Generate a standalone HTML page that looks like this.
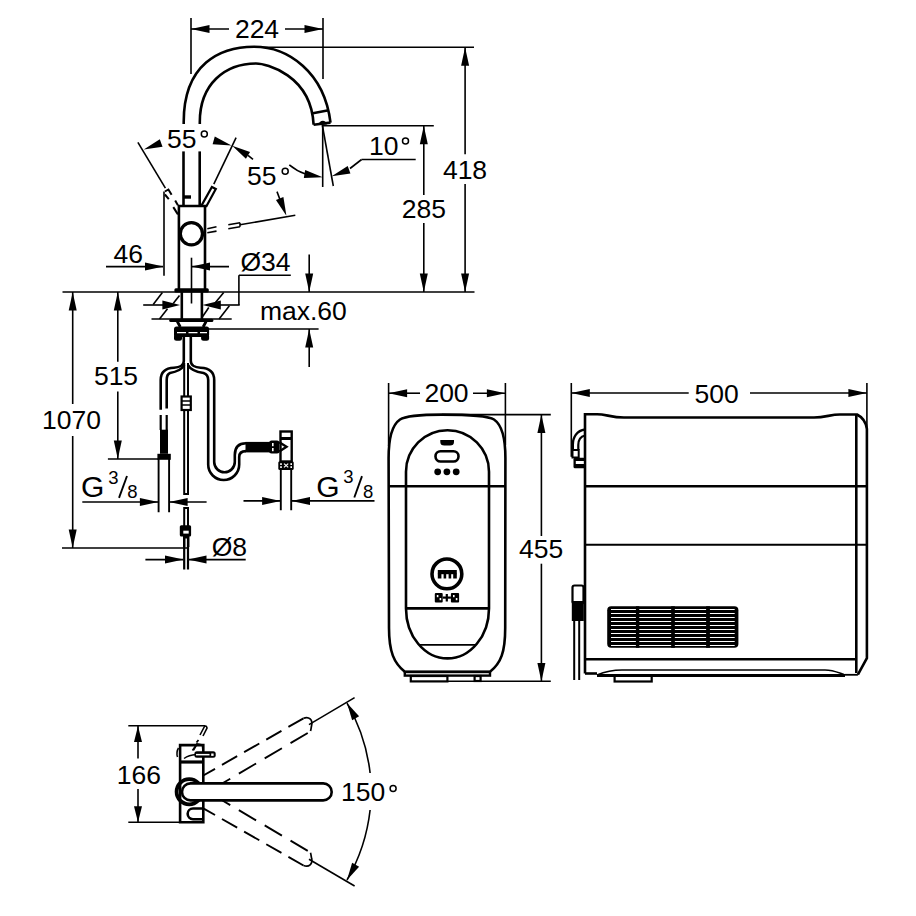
<!DOCTYPE html>
<html><head><meta charset="utf-8"><style>
html,body{margin:0;padding:0;background:#fff;}
svg{display:block;}
text{font-family:"Liberation Sans",sans-serif;fill:#000;stroke:none;}
</style></head><body>
<svg width="916" height="916" viewBox="0 0 916 916" stroke="#000" fill="none" stroke-linecap="butt">
<rect x="0" y="0" width="916" height="916" fill="#fff" stroke="none"/>
<line x1="191" y1="18" x2="191" y2="74" stroke-width="1.6"/>
<line x1="323" y1="18" x2="323" y2="79" stroke-width="1.6"/>
<line x1="191" y1="29" x2="229" y2="29" stroke-width="1.6"/>
<line x1="285" y1="29" x2="323" y2="29" stroke-width="1.6"/>
<polygon points="191.00,29.00 209.50,25.00 209.50,33.00" stroke="none" fill="#000"/>
<polygon points="323.00,29.00 304.50,33.00 304.50,25.00" stroke="none" fill="#000"/>
<text x="257" y="37.7" text-anchor="middle" font-size="26.5">224</text>
<path d="M183.7,124 L183.7,122 C183.7,64 220,46.7 254,46.7 C288,46.7 324.42,71.96 330.5,122.6" stroke-width="2.6" fill="none" />
<path d="M199.8,124 L199.8,122 C199.8,84 225,63.5 256,63.5 C266,63.5 311.1,74.76 313.6,124.7" stroke-width="2.6" fill="none" />
<path d="M312.9,113.2 L328.6,110.2" stroke-width="2.6" fill="none" />
<path d="M313.6,124.7 L330.5,122.6" stroke-width="2.6" fill="none" />
<path d="M318,125 Q319.5,121 322.8,120.8 Q326,121 327,124.5 Z" stroke="none" fill="#000"/>
<line x1="183.5" y1="151.4" x2="183.5" y2="206" stroke-width="2.6"/>
<line x1="199.7" y1="151.4" x2="199.7" y2="206" stroke-width="2.6"/>
<rect x="184" y="195.3" width="7" height="3.4" rx="0" stroke="none" fill="#000"/>
<path d="M178.9,292 L178.9,206 L205,206 L205,292" stroke-width="2.6" fill="none" />
<circle cx="191.4" cy="233.7" r="11.1" stroke-width="3.3" fill="none"/>
<path d="M201.6,205.4 L211.9,187 L215.8,189 L206,207" stroke-width="2.2" fill="none" />
<path d="M164.9,191.5 L168.4,189.5 L171.6,194.8" stroke-width="2.0" fill="none" />
<line x1="164.9" y1="194.5" x2="168.8" y2="199.1" stroke-width="2.0"/>
<line x1="175.2" y1="200.6" x2="177.9" y2="205.2" stroke-width="2.0"/>
<line x1="173.3" y1="207.1" x2="177.9" y2="214.4" stroke-width="2.0"/>
<line x1="137.9" y1="142.3" x2="165.4" y2="188.1" stroke-width="1.6"/>
<line x1="236.1" y1="137.7" x2="213.8" y2="184.2" stroke-width="1.6"/>
<polygon points="143.80,149.50 159.77,139.34 162.54,146.84" stroke="none" fill="#000"/>
<polygon points="231.50,145.50 212.61,144.29 214.80,136.60" stroke="none" fill="#000"/>
<text x="181.8" y="147.5" text-anchor="middle" font-size="26.5">55</text>
<circle cx="204.3" cy="134" r="3" stroke-width="1.5" fill="none"/>
<polygon points="232.20,145.70 250.07,151.93 245.90,158.76" stroke="none" fill="#000"/>
<line x1="248" y1="155.4" x2="253" y2="159.4" stroke-width="1.6"/>
<text x="261.7" y="184.6" text-anchor="middle" font-size="26.5">55</text>
<circle cx="285.2" cy="171.2" r="3" stroke-width="1.5" fill="none"/>
<line x1="277" y1="191.6" x2="282" y2="205" stroke-width="1.6"/>
<polygon points="286.40,215.70 275.95,199.92 283.40,197.01" stroke="none" fill="#000"/>
<line x1="207.3" y1="228.7" x2="216.5" y2="226.8" stroke-width="1.6"/>
<line x1="207.3" y1="232.7" x2="216.5" y2="231.1" stroke-width="1.6"/>
<line x1="228.3" y1="224.8" x2="240" y2="222.8" stroke-width="1.6"/>
<line x1="228.3" y1="228.7" x2="240" y2="226.8" stroke-width="1.6"/>
<line x1="240" y1="222.8" x2="240" y2="226.8" stroke-width="1.6"/>
<line x1="240" y1="224.8" x2="295.3" y2="215.2" stroke-width="1.6"/>
<line x1="322.7" y1="125" x2="322.7" y2="187" stroke-width="1.6"/>
<line x1="322.3" y1="125" x2="333.3" y2="186" stroke-width="1.6"/>
<line x1="361.6" y1="159.5" x2="415.7" y2="159.5" stroke-width="1.6"/>
<line x1="361.6" y1="159.5" x2="350" y2="168.5" stroke-width="1.6"/>
<polygon points="331.70,176.20 347.71,166.10 350.45,173.62" stroke="none" fill="#000"/>
<path d="M289.3,164.8 A52,52 0 0 0 305.5,174" stroke-width="1.6" fill="none" />
<polygon points="322.70,177.20 303.79,177.91 305.18,170.03" stroke="none" fill="#000"/>
<text x="383.7" y="155.2" text-anchor="middle" font-size="26.5">10</text>
<circle cx="405.5" cy="141.1" r="3" stroke-width="1.5" fill="none"/>
<line x1="254" y1="47.2" x2="474" y2="47.2" stroke-width="1.6"/>
<line x1="322" y1="125.7" x2="433.8" y2="125.7" stroke-width="1.6"/>
<line x1="423.8" y1="125.7" x2="423.8" y2="195" stroke-width="1.6"/>
<line x1="423.8" y1="223" x2="423.8" y2="292" stroke-width="1.6"/>
<polygon points="423.80,125.70 427.80,144.20 419.80,144.20" stroke="none" fill="#000"/>
<polygon points="423.80,292.00 419.80,273.50 427.80,273.50" stroke="none" fill="#000"/>
<text x="423.8" y="218" text-anchor="middle" font-size="26.5">285</text>
<line x1="465.1" y1="47.2" x2="465.1" y2="154.3" stroke-width="1.6"/>
<line x1="465.1" y1="184" x2="465.1" y2="292" stroke-width="1.6"/>
<polygon points="465.10,47.20 469.10,65.70 461.10,65.70" stroke="none" fill="#000"/>
<polygon points="465.10,292.00 461.10,273.50 469.10,273.50" stroke="none" fill="#000"/>
<text x="465" y="179" text-anchor="middle" font-size="26.5">418</text>
<line x1="62.5" y1="292" x2="474.5" y2="292" stroke-width="1.6"/>
<text x="128.3" y="262.5" text-anchor="middle" font-size="26.5">46</text>
<line x1="106" y1="266.6" x2="163" y2="266.6" stroke-width="1.6"/>
<polygon points="163.50,266.60 145.00,270.60 145.00,262.60" stroke="none" fill="#000"/>
<line x1="164" y1="191.6" x2="164" y2="275.7" stroke-width="1.6"/>
<line x1="191.3" y1="266.6" x2="229" y2="266.6" stroke-width="1.6"/>
<polygon points="191.50,266.60 210.00,262.60 210.00,270.60" stroke="none" fill="#000"/>
<line x1="191.5" y1="257.7" x2="191.5" y2="303.5" stroke-width="1.6"/>
<text x="265.5" y="271.3" text-anchor="middle" font-size="26.5">Ø34</text>
<line x1="238.9" y1="275.2" x2="290.8" y2="275.2" stroke-width="1.6"/>
<line x1="238.9" y1="275.2" x2="238.9" y2="305" stroke-width="1.6"/>
<line x1="143.2" y1="305" x2="165" y2="305" stroke-width="1.6"/>
<line x1="218" y1="305" x2="239.7" y2="305" stroke-width="1.6"/>
<line x1="151.5" y1="319" x2="231.7" y2="319" stroke-width="1.6"/>
<line x1="153.2" y1="304.6" x2="162.4" y2="292.6" stroke-width="1.6"/>
<line x1="159.5" y1="319" x2="167.5" y2="308.7" stroke-width="1.6"/>
<line x1="173.2" y1="303.5" x2="179.5" y2="295.5" stroke-width="1.6"/>
<line x1="215.1" y1="303" x2="223.7" y2="292.6" stroke-width="1.6"/>
<line x1="219.1" y1="319" x2="229.4" y2="305.8" stroke-width="1.6"/>
<line x1="202.5" y1="316.7" x2="208.8" y2="307.5" stroke-width="1.6"/>
<polygon points="180.10,305.00 162.40,309.50 162.40,300.50" stroke="none" fill="#000"/>
<polygon points="202.50,305.00 220.80,300.50 220.80,309.50" stroke="none" fill="#000"/>
<path d="M181.8,292 L181.8,319 M201.9,292 L201.9,319" stroke-width="2.6" fill="none" />
<rect x="174.4" y="288.3" width="34.4" height="4.3" rx="1.5" stroke="none" fill="#000"/>
<rect x="169.2" y="318.8" width="44.2" height="3.2" rx="1.5" stroke="none" fill="#000"/>
<path d="M177.3,321.5 L180.3,327 M206.1,321.5 L203.1,327" stroke-width="2.8" fill="none" />
<rect x="174" y="326.4" width="35.1" height="10.6" rx="2.5" stroke="none" fill="#000"/>
<line x1="177" y1="332.6" x2="207" y2="332.6" stroke="#fff" stroke-width="1.1" stroke-dasharray="9,2.5"/>
<rect x="174" y="334" width="8" height="6.8" rx="2.5" stroke="none" fill="#000"/>
<rect x="201.1" y="334" width="8" height="6.8" rx="2.5" stroke="none" fill="#000"/>
<text x="303.4" y="320.2" text-anchor="middle" font-size="26.5">max.60</text>
<line x1="208.8" y1="329" x2="318.6" y2="329" stroke-width="1.6"/>
<line x1="309.2" y1="254.5" x2="309.2" y2="292" stroke-width="1.6"/>
<polygon points="309.20,292.00 305.20,273.50 313.20,273.50" stroke="none" fill="#000"/>
<line x1="309.2" y1="329" x2="309.2" y2="366.9" stroke-width="1.6"/>
<polygon points="309.20,329.00 313.20,347.50 305.20,347.50" stroke="none" fill="#000"/>
<line x1="72.7" y1="292" x2="72.7" y2="404" stroke-width="1.6"/>
<line x1="72.7" y1="436" x2="72.7" y2="548" stroke-width="1.6"/>
<polygon points="72.70,292.00 76.70,310.50 68.70,310.50" stroke="none" fill="#000"/>
<polygon points="72.70,548.00 68.70,529.50 76.70,529.50" stroke="none" fill="#000"/>
<text x="71.4" y="429.4" text-anchor="middle" font-size="26.5">1070</text>
<line x1="117.8" y1="292" x2="117.8" y2="361.7" stroke-width="1.6"/>
<line x1="117.8" y1="391.4" x2="117.8" y2="459" stroke-width="1.6"/>
<polygon points="117.80,292.00 121.80,310.50 113.80,310.50" stroke="none" fill="#000"/>
<polygon points="117.80,459.00 113.80,440.50 121.80,440.50" stroke="none" fill="#000"/>
<text x="116" y="384.9" text-anchor="middle" font-size="26.5">515</text>
<line x1="107.9" y1="459" x2="158.4" y2="459" stroke-width="1.6"/>
<line x1="62" y1="548" x2="189" y2="548" stroke-width="1.6"/>
<path d="M183.8,337 L183.8,361 C183.8,365.5 179,367.5 174,367.7 C165,368 160.7,372 160.7,380 L160.7,409.7" stroke-width="2.6" fill="none" />
<path d="M184.2,365 C181,371 174,372.3 170,373 C167.5,374 166.7,376 166.7,380 L166.7,408.5" stroke-width="2.6" fill="none" />
<path d="M190.8,337 L190.8,361 C190.8,365.5 195.5,367.5 200.5,367.7 C209.5,368 214.2,372 214.2,380 L214.2,462 A10.3,10.3 0 0 0 234.8,462 L234.8,455 C234.8,447 239,443.2 246,443.2" stroke-width="2.6" fill="none" />
<path d="M188,365 C191,371 199,372.3 203.5,373 C206.5,374 208.2,376 208.2,380 L208.2,464.5 A15.5,15.5 0 0 0 239.2,464.5 L239.2,457 C239.2,453 241.5,451.1 246,451.1" stroke-width="2.6" fill="none" />
<path d="M184.2,363 L184.2,396 M188,363 L188,396" stroke-width="2.0" fill="none" />
<rect x="181.6" y="396.5" width="9.2" height="13.5" rx="0" stroke-width="2.2" fill="none"/>
<line x1="182" y1="401" x2="190.5" y2="401" stroke-width="1.5"/>
<line x1="182" y1="405" x2="190.5" y2="405" stroke-width="1.5"/>
<path d="M184.2,410 L184.2,494 L188,494 L188,410" stroke-width="2.0" fill="none" />
<path d="M184.2,526 L184.2,508 L188,508 L188,526" stroke-width="2.0" fill="none" />
<rect x="179.8" y="525.3" width="11.3" height="11.3" rx="1.5" stroke="none" fill="#000"/>
<rect x="183.3" y="530.7" width="5.4" height="2.9" fill="#fff" stroke="none"/>
<path d="M184.2,536.4 L184.2,569.5 M188,536.4 L188,569.5" stroke-width="2.2" fill="none" />
<rect x="183" y="536" width="6.4" height="11" rx="0" stroke="none" fill="#000"/>
<rect x="185.5" y="538.5" width="1.4" height="8.5" fill="#fff" stroke="none"/>
<path d="M160.7,415 L160.7,430 M166.7,415 L166.7,430" stroke-width="2.2" fill="none" />
<rect x="160" y="429.7" width="8" height="24.1" rx="0" stroke="none" fill="#000"/>
<rect x="157.4" y="453.8" width="13.4" height="6" rx="0" stroke="none" fill="#000"/>
<path d="M158.6,459 L158.6,512.3 M169.1,459 L169.1,512.3" stroke-width="1.9000000000000001" fill="none" />
<line x1="82.3" y1="502" x2="158.4" y2="502" stroke-width="1.6"/>
<polygon points="158.40,502.00 139.90,506.00 139.90,498.00" stroke="none" fill="#000"/>
<line x1="169.1" y1="502" x2="206.6" y2="502" stroke-width="1.6"/>
<polygon points="169.10,502.00 187.60,498.00 187.60,506.00" stroke="none" fill="#000"/>
<text x="81" y="497.4" text-anchor="start" font-size="30">G</text>
<text x="108.3" y="483.7" text-anchor="start" font-size="18.5">3</text>
<line x1="127" y1="476" x2="119" y2="497.8" stroke-width="1.9"/>
<text x="127.3" y="497.8" text-anchor="start" font-size="18.5">8</text>
<rect x="245.5" y="441.9" width="24.5" height="10.5" rx="0" stroke="none" fill="#000"/>
<rect x="269.1" y="440.4" width="10.4" height="13.1" rx="2.5" stroke="none" fill="#000"/>
<g fill="#fff" stroke="none"><rect x="272" y="443" width="1.6" height="3.2"/><rect x="272" y="448" width="1.6" height="3.2"/></g>
<path d="M279.3,442.2 L286.5,446.8 L279.3,451.4" stroke-width="2.4" fill="#fff" />
<rect x="280.5" y="431.5" width="11.2" height="30" rx="0" stroke-width="2.4" fill="none"/>
<line x1="281" y1="438.5" x2="291" y2="438.5" stroke-width="3"/>
<rect x="278.3" y="461.3" width="15.4" height="8.6" rx="1.5" stroke="none" fill="#000"/>
<g fill="#fff" stroke="none"><rect x="280.2" y="463.2" width="1.6" height="1.8"/><rect x="280.2" y="466.2" width="1.6" height="1.8"/><rect x="290.4" y="463.2" width="1.6" height="1.8"/><rect x="290.4" y="466.2" width="1.6" height="1.8"/></g>
<path d="M284,463.6 L288.2,467.4 M288.2,463.6 L284,467.4" stroke="#fff" stroke-width="1.2"/>
<path d="M280.8,469.7 L280.8,510.3 M291.2,469.7 L291.2,510.3" stroke-width="1.9000000000000001" fill="none" />
<line x1="243.5" y1="500.9" x2="280.6" y2="500.9" stroke-width="1.6"/>
<polygon points="280.60,500.90 262.10,504.90 262.10,496.90" stroke="none" fill="#000"/>
<line x1="291.5" y1="500.9" x2="374.5" y2="500.9" stroke-width="1.6"/>
<polygon points="291.50,500.90 310.00,496.90 310.00,504.90" stroke="none" fill="#000"/>
<text x="316.3" y="497.4" text-anchor="start" font-size="30">G</text>
<text x="343.2" y="483.2" text-anchor="start" font-size="18.5">3</text>
<line x1="362" y1="476.1" x2="354.3" y2="497.5" stroke-width="1.9"/>
<text x="362.9" y="497.5" text-anchor="start" font-size="18.5">8</text>
<line x1="145.4" y1="559.6" x2="183.5" y2="559.6" stroke-width="1.6"/>
<polygon points="183.50,559.60 165.00,563.60 165.00,555.60" stroke="none" fill="#000"/>
<line x1="188" y1="559.6" x2="245.7" y2="559.6" stroke-width="1.6"/>
<polygon points="188.00,559.60 206.50,555.60 206.50,563.60" stroke="none" fill="#000"/>
<text x="229.4" y="555.5" text-anchor="middle" font-size="26.5">Ø8</text>
<line x1="388.6" y1="383" x2="388.6" y2="446" stroke-width="1.6"/>
<line x1="505.4" y1="383" x2="505.4" y2="445" stroke-width="1.6"/>
<line x1="388.6" y1="393.2" x2="420" y2="393.2" stroke-width="1.6"/>
<line x1="473" y1="393.2" x2="505.4" y2="393.2" stroke-width="1.6"/>
<polygon points="388.60,393.20 407.10,389.20 407.10,397.20" stroke="none" fill="#000"/>
<polygon points="505.40,393.20 486.90,397.20 486.90,389.20" stroke="none" fill="#000"/>
<text x="446.5" y="402" text-anchor="middle" font-size="26.5">200</text>
<line x1="442" y1="414.6" x2="550.8" y2="414.6" stroke-width="1.6"/>
<path d="M442,414.6 C470,414.6 488,415.5 494,419.5 C502,425 505.4,438 505.4,458 L505.2,628 C505.2,652 501,663 490,671.8 L404.8,671.8 C394,663 389,652 389,628 L388.6,458 C388.6,438 392,425 400,419.5 C406,415.5 424,414.6 442,414.6 Z" stroke-width="2.6" fill="none" />
<path d="M406,608.4 L406,471.8 A41.5,41.5 0 0 1 489,471.8 L489,608.4 A41.5,50 0 0 1 406,608.4" stroke-width="2.6" fill="none" />
<line x1="388.6" y1="486.2" x2="505.4" y2="486.2" stroke-width="2.6"/>
<line x1="406" y1="608.4" x2="489" y2="608.4" stroke-width="2.6"/>
<line x1="419.7" y1="644.9" x2="475.1" y2="644.9" stroke-width="1.8"/>
<path d="M440.3,440 L454,440 L454,442 Q454,445.5 450,445.5 L444.3,445.5 Q440.3,445.5 440.3,442 Z" stroke="none" fill="#000"/>
<rect x="435.5" y="451.3" width="23" height="10.2" rx="5" stroke-width="2.6" fill="none"/>
<circle cx="437.7" cy="471.8" r="3.4" stroke-width="0" fill="#000"/>
<circle cx="446.9" cy="471.8" r="3.4" stroke-width="0" fill="#000"/>
<circle cx="456.2" cy="471.8" r="3.4" stroke-width="0" fill="#000"/>
<circle cx="446.9" cy="573.9" r="14.9" stroke-width="3.6" fill="none"/>
<rect x="437.8" y="570" width="19" height="4.2" rx="0" stroke="none" fill="#000"/>
<rect x="437.8" y="573.5" width="3.6" height="5" rx="0" stroke="none" fill="#000"/>
<rect x="443.6" y="573.5" width="2.6" height="5" rx="0" stroke="none" fill="#000"/>
<rect x="448.6" y="573.5" width="2.6" height="5" rx="0" stroke="none" fill="#000"/>
<rect x="453.2" y="573.5" width="3.6" height="5" rx="0" stroke="none" fill="#000"/>
<rect x="434.8" y="593" width="7.9" height="9.4" rx="1" stroke="none" fill="#000"/>
<rect x="450.9" y="593" width="8.2" height="9.4" rx="1" stroke="none" fill="#000"/>
<rect x="436.8" y="595" width="1.6" height="2.2" fill="#fff" stroke="none"/><rect x="439.6" y="598" width="1.6" height="2.2" fill="#fff" stroke="none"/>
<rect x="453" y="595" width="1.6" height="2.2" fill="#fff" stroke="none"/><rect x="455.8" y="598" width="1.6" height="2.2" fill="#fff" stroke="none"/>
<line x1="442.7" y1="597.6" x2="450.9" y2="597.6" stroke-width="2.2"/>
<line x1="446.8" y1="594" x2="446.8" y2="601.5" stroke-width="2.2"/>
<rect x="404.8" y="672" width="85.2" height="3.6" rx="0" stroke-width="2.4" fill="none"/>
<rect x="410.8" y="676" width="36.6" height="5.4" rx="0" stroke-width="2.2" fill="none"/>
<rect x="474.6" y="676" width="6" height="5" rx="0" stroke-width="2.2" fill="none"/>
<line x1="447.4" y1="681.3" x2="550.8" y2="681.3" stroke-width="1.6"/>
<line x1="541.4" y1="414.6" x2="541.4" y2="536" stroke-width="1.6"/>
<line x1="541.4" y1="563.7" x2="541.4" y2="681.6" stroke-width="1.6"/>
<polygon points="541.40,414.60 545.40,433.10 537.40,433.10" stroke="none" fill="#000"/>
<polygon points="541.40,681.60 537.40,663.10 545.40,663.10" stroke="none" fill="#000"/>
<text x="541.2" y="557.6" text-anchor="middle" font-size="26.5">455</text>
<line x1="571.3" y1="383" x2="571.3" y2="456.8" stroke-width="1.6"/>
<line x1="866.9" y1="383" x2="866.9" y2="430" stroke-width="1.6"/>
<line x1="571.3" y1="393" x2="688.7" y2="393" stroke-width="1.6"/>
<line x1="750" y1="393" x2="866.9" y2="393" stroke-width="1.6"/>
<polygon points="571.30,393.00 589.80,389.00 589.80,397.00" stroke="none" fill="#000"/>
<polygon points="866.90,393.00 848.40,397.00 848.40,389.00" stroke="none" fill="#000"/>
<text x="716.6" y="402.5" text-anchor="middle" font-size="26.5">500</text>
<path d="M585,673.5 L585,414.2 L597,414.2 C606,414.2 611,417.5 624,417.5 L814,417.5 C826,417.5 830,414.5 840,414.5 L857,414.5 C862,417 866,422 866.9,429 L866.9,658.2 L857.9,674.6" stroke-width="2.6" fill="none" />
<line x1="856.3" y1="414.5" x2="856.3" y2="673" stroke-width="2.6"/>
<line x1="585" y1="486.3" x2="866.9" y2="486.3" stroke-width="2.6"/>
<line x1="585" y1="544.8" x2="866.9" y2="544.8" stroke-width="2.0"/>
<line x1="585" y1="659.3" x2="856.3" y2="659.3" stroke-width="2.6"/>
<path d="M585,673.5 L597,673.5" stroke-width="2.6" fill="none" />
<path d="M597,675 C603,672.5 612,670 622,670 L825,670 C833,670 838,672.5 844,674.5" stroke-width="1.6" fill="none" />
<path d="M597,675.5 L845,675.5" stroke-width="3.0" fill="none" />
<line x1="845" y1="674.8" x2="857.9" y2="674.8" stroke-width="1.8"/>
<rect x="614.6" y="675.5" width="37.1" height="6" rx="0" stroke-width="2.2" fill="none"/>
<rect x="607.2" y="606.3" width="131.2" height="41.5" rx="4" stroke="none" fill="#000"/>
<line x1="611" y1="609.50" x2="734.7" y2="609.50" stroke="#fff" stroke-width="1"/>
<line x1="611" y1="613.50" x2="734.7" y2="613.50" stroke="#fff" stroke-width="1"/>
<line x1="611" y1="617.50" x2="734.7" y2="617.50" stroke="#fff" stroke-width="1"/>
<line x1="611" y1="621.50" x2="734.7" y2="621.50" stroke="#fff" stroke-width="1"/>
<line x1="611" y1="625.50" x2="734.7" y2="625.50" stroke="#fff" stroke-width="1"/>
<line x1="611" y1="629.50" x2="734.7" y2="629.50" stroke="#fff" stroke-width="1"/>
<line x1="611" y1="633.50" x2="734.7" y2="633.50" stroke="#fff" stroke-width="1"/>
<line x1="611" y1="637.50" x2="734.7" y2="637.50" stroke="#fff" stroke-width="1"/>
<line x1="611" y1="641.50" x2="734.7" y2="641.50" stroke="#fff" stroke-width="1"/>
<line x1="611" y1="645.50" x2="734.7" y2="645.50" stroke="#fff" stroke-width="1"/>
<rect x="635.9" y="606.3" width="3.4" height="41.5" rx="0" stroke="none" fill="#000"/>
<rect x="671.15" y="606.3" width="3.7" height="41.5" rx="0" stroke="none" fill="#000"/>
<rect x="706.1" y="606.3" width="3.8" height="41.5" rx="0" stroke="none" fill="#000"/>
<path d="M585,429.5 C577,430.5 572.8,437 572.8,445 L572.8,450" stroke-width="2.4" fill="none" />
<path d="M585,435.5 C580.5,436.5 578.3,440 578.3,445 L578.3,450" stroke-width="2.2" fill="none" />
<rect x="572.5" y="450" width="6.2" height="7.5" rx="0" stroke-width="2.0" fill="none"/>
<rect x="573.5" y="457.8" width="11.5" height="10.5" rx="1.5" stroke="none" fill="#000"/>
<rect x="575.8" y="461" width="8" height="3" fill="#fff" stroke="none"/>
<rect x="572.5" y="585.5" width="11" height="18" rx="2" stroke-width="2.2" fill="none"/>
<rect x="571.8" y="601" width="12" height="20" rx="0" stroke="none" fill="#000"/>
<path d="M574.2,621 L574.2,680 M579.2,621 L579.2,680" stroke-width="2.0" fill="none" />
<line x1="128.3" y1="725.7" x2="205.2" y2="725.7" stroke-width="1.6"/>
<line x1="128.3" y1="822.3" x2="180" y2="822.3" stroke-width="1.6"/>
<line x1="138" y1="725.9" x2="138" y2="758.5" stroke-width="1.6"/>
<line x1="138" y1="789" x2="138" y2="822.3" stroke-width="1.6"/>
<polygon points="138.00,725.90 142.00,741.90 134.00,741.90" stroke="none" fill="#000"/>
<polygon points="138.00,822.30 134.00,806.30 142.00,806.30" stroke="none" fill="#000"/>
<text x="138.8" y="783.5" text-anchor="middle" font-size="26.5">166</text>
<path d="M180.1,822.3 L180.1,745.1 L203.3,745.1 L203.3,822.3 Z" stroke-width="2.6" fill="none" />
<line x1="180.1" y1="762" x2="203.3" y2="762" stroke-width="3.2"/>
<rect x="194.4" y="751.3" width="21.3" height="6.5" rx="2.5" stroke="none" fill="#000"/>
<g fill="#fff" stroke="none"><rect x="196" y="753.9" width="13.5" height="1.5"/><rect x="211.2" y="753.5" width="2.4" height="2.4"/></g>
<path d="M200,735 L204.5,726.5 Q206.5,725 207,728 L203,736" stroke-width="1.6" fill="none" />
<path d="M192.5,750.5 L197,744 L202.5,745 L203,751 M197,744 L193.5,750 M196.5,742.5 L198.5,740" stroke-width="1.8" fill="none" />
<path d="M184,758.5 Q189,755 196,754.5" stroke-width="1.5" fill="none" />
<path d="M177.5,757 Q176,752 178.5,748" stroke-width="1.5" fill="none" />
<circle cx="189.2" cy="791.8" r="12.6" stroke-width="3.8" fill="none"/>
<path d="M331.7,791.9 A8.5,8.5 0 0 0 323.2,783.4 L190.5,783.4 A8.5,8.5 0 0 0 190.5,800.4 L323.2,800.4 A8.5,8.5 0 0 0 331.7,791.9 Z" stroke-width="2.6" fill="#fff" />
<path d="M203,819.2 L193,819.2 A5.35,5.35 0 0 1 193,808.5 L203,808.5" stroke-width="2.6" fill="none" />
<path d="M203.3,775.5 L303.5,718.3" stroke-dasharray="17.5,8" stroke-dashoffset="4" stroke-width="1.9" fill="none"/>
<path d="M222.5,783.3 L311.4,730.8" stroke-dasharray="20,10" stroke-dashoffset="11" stroke-width="1.9" fill="none"/>
<path d="M203.3,808.3 L303.5,865.5" stroke-dasharray="17.5,8" stroke-dashoffset="4" stroke-width="1.9" fill="none"/>
<path d="M222.5,800.5 L311.4,853" stroke-dasharray="20,10" stroke-dashoffset="11" stroke-width="1.9" fill="none"/>
<path d="M303.5,718.3 C309,716 313,720 311.6,725.5 C311,728.5 311,729.5 310.5,731" stroke-width="1.7" fill="none" />
<path d="M303.5,865.5 C309,867.8 313,863.8 311.6,858.3 C311,855.3 311,854.3 310.5,852.8" stroke-width="1.7" fill="none" />
<line x1="309" y1="724.6" x2="354.6" y2="697.6" stroke-width="1.6"/>
<line x1="309" y1="859.2" x2="354.6" y2="886" stroke-width="1.6"/>
<path d="M347,703.1 A179.5,179.5 0 0 1 370.1,773 M370.1,810 A179.5,179.5 0 0 1 347,880" stroke-width="1.6" fill="none"/>
<polygon points="347.00,703.10 359.10,716.36 352.13,720.30" stroke="none" fill="#000"/>
<polygon points="347.00,880.00 352.13,862.80 359.10,866.74" stroke="none" fill="#000"/>
<text x="363.2" y="801.4" text-anchor="middle" font-size="26.5">150</text>
<circle cx="393.1" cy="788.5" r="3" stroke-width="1.5" fill="none"/>
</svg></body></html>
